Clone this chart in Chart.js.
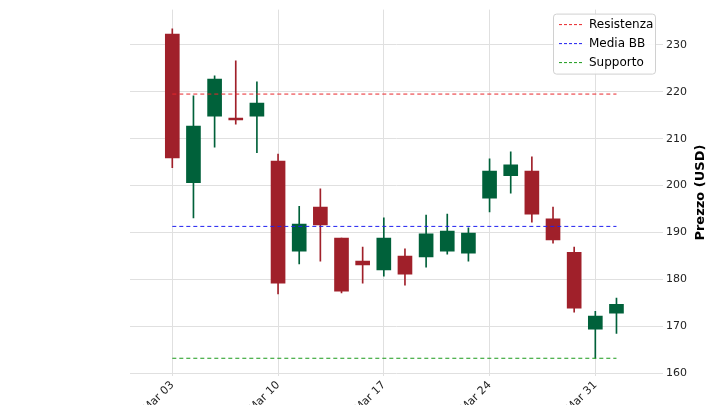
<!DOCTYPE html>
<html>
<head>
<meta charset="utf-8">
<script src="https://cdn.jsdelivr.net/npm/chart.js@4.4.0/dist/chart.umd.min.js"></script>
<style>
  html, body { margin: 0; padding: 0; background: #fff; overflow: hidden; }
  #wrap { width: 720px; height: 418px; position: relative; }
</style>
</head>
<body>
<div id="wrap"><canvas id="chart"></canvas></div>
<script>
// Trading days (index on x axis)
const dates = ['Mar 03','Mar 04','Mar 05','Mar 06','Mar 07','Mar 10','Mar 11','Mar 12','Mar 13','Mar 14',
  'Mar 17','Mar 18','Mar 19','Mar 20','Mar 21','Mar 24','Mar 25','Mar 26','Mar 27','Mar 28','Mar 31','Apr 01'];
const opens  = [232.3, 200.6, 214.8, 214.4, 214.8, 205.2, 186.0, 195.4, 188.8, 183.9,
  182.0, 185.0, 184.8, 186.0, 185.6, 197.3, 202.1, 203.1, 192.9, 185.8, 169.4, 172.8];
const closes = [205.9, 212.7, 222.7, 214.0, 217.6, 179.2, 191.8, 191.6, 177.5, 183.1,
  188.8, 181.1, 189.7, 190.3, 189.9, 203.1, 204.4, 193.9, 188.4, 173.9, 172.2, 174.7];
const highs  = [233.4, 219.1, 223.4, 226.6, 222.1, 206.7, 195.6, 199.3, 188.8, 186.9,
  193.1, 186.5, 193.7, 193.9, 191.0, 205.7, 207.2, 206.1, 195.4, 186.9, 173.2, 176.0];
const lows   = [203.8, 193.1, 208.2, 213.1, 207.0, 176.9, 183.3, 183.9, 177.1, 179.2,
  180.7, 178.8, 182.6, 185.4, 183.9, 194.4, 198.4, 192.2, 187.7, 173.0, 163.2, 168.5];
const tickIdx = [0, 5, 10, 15, 20];
const yTicks = [160, 170, 180, 190, 200, 210, 220, 230];

const resistenza = 219.5;
const mediaBB = 191.3;
const supporto = 163.2;

const UP = '#00613a';
const DOWN = '#a0202a';

const candleColors = opens.map((o, i) => closes[i] >= o ? UP : DOWN);
const bodies = opens.map((o, i) => ({ x: i, y: [o, closes[i]] }));
const wicks = highs.map((h, i) => ({ x: i, y: [lows[i], h] }));
const level = v => [{ x: 0, y: v }, { x: dates.length - 1, y: v }];

const legendItems = [
  { label: 'Resistenza', color: '#e8262b' },
  { label: 'Media BB', color: '#2020f0' },
  { label: 'Supporto', color: '#1a9a1a' }
];

// Legend inside the plot (top right) and the y title read bottom-to-top
const extras = {
  id: 'extras',
  afterDraw(chart) {
    const ctx = chart.ctx;
    const a = chart.chartArea;
    const w = 102, h = 60;
    const x = a.right - w - 8, y = a.top + 4;
    ctx.save();
    ctx.fillStyle = 'rgba(255,255,255,0.9)';
    ctx.strokeStyle = '#d0d0d0';
    ctx.lineWidth = 1;
    ctx.beginPath();
    ctx.roundRect(x + 0.5, y + 0.5, w, h, 3);
    ctx.fill();
    ctx.stroke();
    ctx.font = '12px "DejaVu Sans"';
    ctx.textBaseline = 'middle';
    legendItems.forEach((it, i) => {
      const ly = y + 11 + i * 19;
      ctx.strokeStyle = it.color;
      ctx.setLineDash([3, 2]);
      ctx.beginPath();
      ctx.moveTo(x + 6, ly);
      ctx.lineTo(x + 30, ly);
      ctx.stroke();
      ctx.setLineDash([]);
      ctx.fillStyle = '#000';
      ctx.fillText(it.label, x + 36, ly);
    });
    ctx.translate(a.right + 38, (a.top + a.bottom) / 2);
    ctx.rotate(-Math.PI / 2);
    ctx.textAlign = 'center';
    ctx.font = 'bold 13px "DejaVu Sans"';
    ctx.fillText('Prezzo (USD)', 0, 0);
    ctx.restore();
  }
};

new Chart(document.getElementById('chart'), {
  data: {
    datasets: [
      { type: 'bar', data: wicks, backgroundColor: candleColors, barThickness: 1, grouped: false, order: 2 },
      { type: 'bar', data: bodies, backgroundColor: candleColors, barThickness: 14, grouped: false, order: 1 },
      { type: 'line', data: level(resistenza), borderColor: '#e8262b', borderWidth: 1, borderDash: [4, 3], pointRadius: 0, order: 0 },
      { type: 'line', data: level(mediaBB), borderColor: '#2020f0', borderWidth: 1, borderDash: [4, 3], pointRadius: 0, order: 0 },
      { type: 'line', data: level(supporto), borderColor: '#1a9a1a', borderWidth: 1, borderDash: [4, 3], pointRadius: 0, order: 0 }
    ]
  },
  options: {
    responsive: true,
    maintainAspectRatio: false,
    animation: false,
    layout: { padding: { left: 130, top: 0, right: 30, bottom: 0 } },
    plugins: { legend: { display: false }, tooltip: { enabled: false } },
    scales: {
      x: {
        type: 'linear',
        min: -2,
        max: 23.2,
        offset: false,
        afterBuildTicks: axis => { axis.ticks = tickIdx.map(v => ({ value: v })); },
        ticks: {
          callback: v => dates[v],
          maxRotation: 45, minRotation: 45,
          color: '#222',
          font: { family: 'DejaVu Sans', size: 11 }
        },
        grid: { color: '#e0e0e0', offset: false, drawTicks: false },
        border: { display: false }
      },
      y: {
        position: 'right',
        min: 159.5,
        max: 237.5,
        afterBuildTicks: axis => { axis.ticks = yTicks.map(v => ({ value: v })); },
        ticks: { color: '#222', font: { family: 'DejaVu Sans', size: 11 } },
        grid: { color: '#e0e0e0', drawTicks: false },
        border: { display: false }
      }
    }
  },
  plugins: [extras]
});
</script>
</body>
</html>
